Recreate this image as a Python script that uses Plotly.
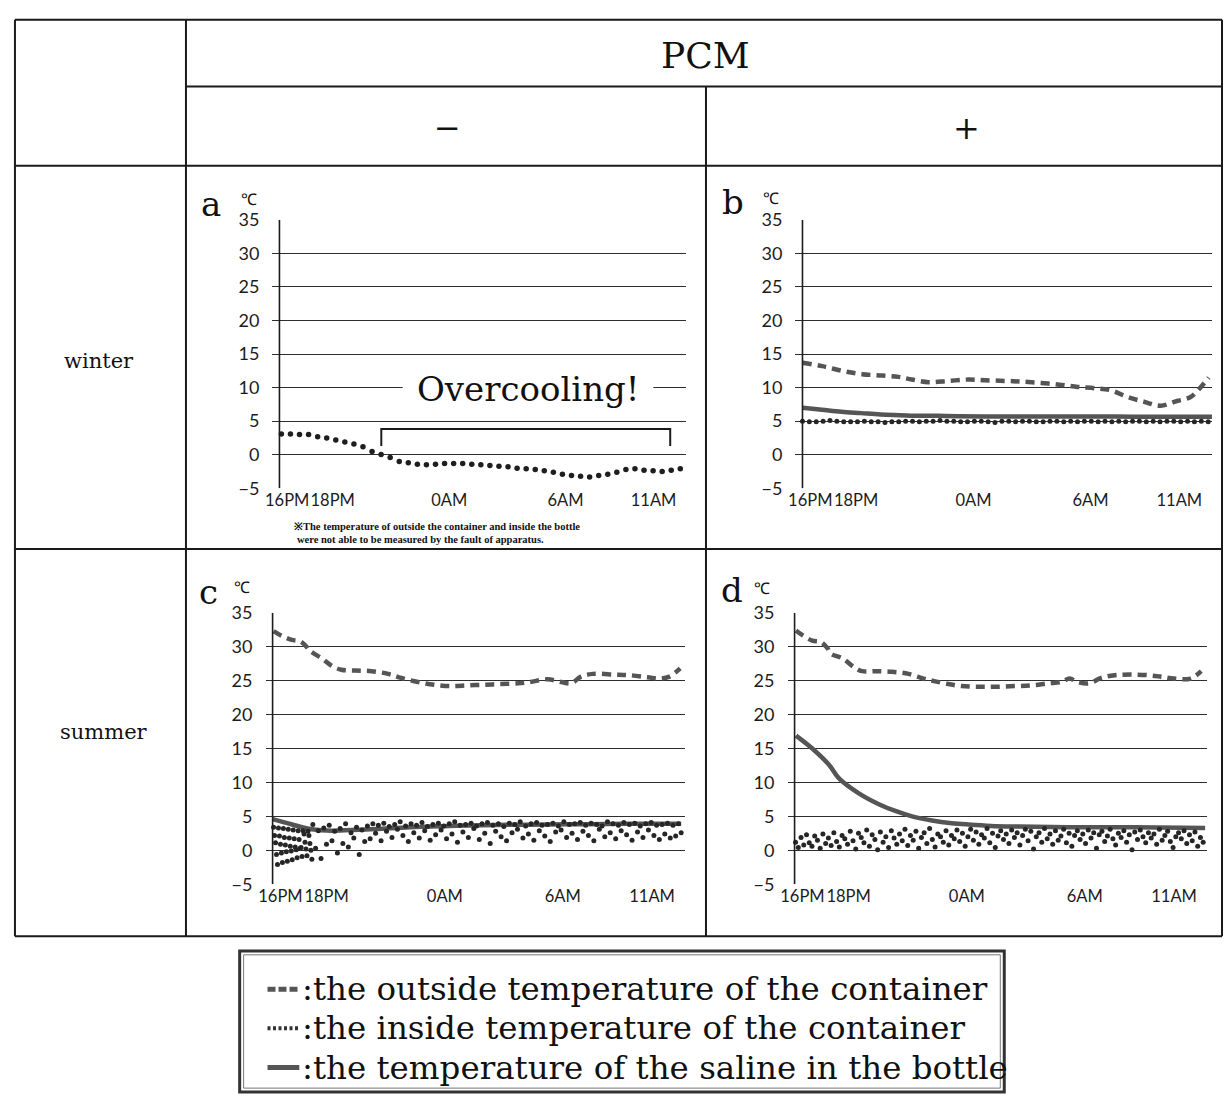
import numpy as np
import plotly.graph_objects as go

W, H = 1224, 1104

# ---------------- data ----------------
tick_labels = ["16PM", "18PM", "0AM", "6AM", "11AM"]
tick_pos = [0.4, 2.75, 8.77, 14.77, 19.32]
y_ticks = [-5, 0, 5, 10, 15, 20, 25, 30, 35]

# a: winter, PCM -  (only inside temperature available)
a_inside = [3.1, 3.1, 3.0, 3.0, 2.7, 2.5, 2.2, 1.9, 1.6, 1.2, 0.5, 0.05, -0.4, -1.0, -1.2,
            -1.4, -1.5, -1.4, -1.3, -1.3, -1.3, -1.4, -1.5, -1.6, -1.7, -1.8, -2.0, -2.1, -2.2,
            -2.4, -2.6, -2.9, -3.1, -3.2, -3.3, -3.1, -2.9, -2.6, -2.2, -2.1, -2.3, -2.4, -2.5,
            -2.3, -2.1]
a_inside_t = np.linspace(0.1, 20.7, len(a_inside))
overcool_t = [5.26, 20.18]

# b: winter, PCM +
b_outside_t = [0, 1.02, 2.04, 3.06, 4.08, 4.93, 5.61, 6.46, 7.48, 8.5, 9.35, 10.37, 11.22,
               12.24, 13.26, 14.11, 14.96, 15.81, 16.66, 17.51, 18.36, 19.2, 19.9, 20.4, 20.83]
b_outside = [13.7, 13.2, 12.5, 12.0, 11.8, 11.6, 11.2, 10.8, 11.0, 11.2, 11.1, 11.0, 10.9,
             10.7, 10.4, 10.1, 9.9, 9.6, 8.6, 7.9, 7.3, 8.0, 8.6, 10.0, 11.5]
b_saline_t = [0, 1, 2, 3, 4, 5, 6, 7, 8, 10, 12, 14, 16, 18, 20, 21]
b_saline = [7.0, 6.7, 6.4, 6.2, 6.0, 5.9, 5.8, 5.8, 5.75, 5.7, 5.7, 5.7, 5.7, 5.65, 5.65, 5.65]
b_inside = [5.0, 4.9, 4.9, 5.0, 5.1, 5.0, 4.9, 4.9, 4.9, 5.0, 4.9, 4.9, 4.8, 4.9, 4.9, 5.0,
            5.0, 4.9, 5.0, 5.0, 5.1, 5.0, 5.0, 4.9, 4.9, 5.0, 5.0, 4.9, 4.8, 5.0, 5.0, 4.9,
            5.0, 5.0, 4.9, 4.9, 5.0, 5.0, 4.9, 5.0, 4.9, 5.0, 5.0, 4.9, 5.0, 4.9, 5.0, 4.9,
            5.0, 5.0, 4.9, 5.0, 4.9, 5.0, 5.0, 4.9, 5.0, 4.9, 5.0, 4.9]
b_inside_t = np.linspace(0.0, 20.8, len(b_inside))

# c: summer, PCM -
c_outside_t = [0.05, 0.47, 0.98, 1.4, 1.66, 1.9, 2.5, 3.0, 3.5, 4.2, 5.03, 5.88, 6.55, 7.4,
               8.24, 9.09, 9.93, 10.8, 11.6, 12.5, 13.1, 14.0, 14.7, 15.2, 15.7, 16.3, 17.4,
               18.2, 19.1, 19.7, 20.2, 20.75]
c_outside = [32.3, 31.6, 31.0, 30.8, 30.2, 29.4, 28.3, 27.2, 26.6, 26.5, 26.4, 26.0, 25.4, 24.8,
             24.4, 24.2, 24.3, 24.4, 24.5, 24.6, 24.8, 25.2, 24.8, 24.6, 25.6, 26.0, 25.9,
             25.8, 25.5, 25.3, 25.6, 26.8]
c_saline_t = [0, 0.5, 1, 1.5, 2, 2.5, 3, 4, 5, 6, 7, 8, 9, 10, 12, 14, 16, 18, 20, 20.8]
c_saline = [4.6, 4.2, 3.8, 3.4, 3.1, 2.95, 2.9, 3.0, 3.1, 3.25, 3.4, 3.5, 3.6, 3.65, 3.75,
            3.8, 3.85, 3.9, 3.9, 3.9]
c_inside_early = [3.4, 2.2, 1.1, -0.6, -2.1, 3.3, 2.1, 0.9, -0.4, -1.8,
                  3.2, 1.9, 0.8, -0.2, -1.6, 3.1, 1.8, 0.6, -0.1, -1.4,
                  3.0, 1.7, 0.5, 0.1, -1.1, 2.9, 1.6, 0.3, 0.4, -0.9,
                  2.9, 2.4, 1.2, 0.2, -0.8, 2.8, 2.2, 1.0, 0.0, -1.3]
c_inside_early_t = np.linspace(0.05, 2.0, len(c_inside_early))
c_inside = [3.8, 0.3, 2.9, -1.2, 3.3, 0.9, 3.7, 1.4, 2.8, -0.4, 3.2, 1.0, 3.9, 0.5, 2.6, 1.8,
            3.4, -0.6, 3.0, 1.3,
            3.6, 1.7, 3.9, 2.5, 3.7, 1.4, 4.0, 2.8, 3.5, 1.9, 3.8, 3.1, 4.2, 2.2, 3.6, 1.3,
            3.9, 2.6, 3.7, 1.8, 4.1, 2.9, 3.5, 1.5, 3.8, 2.3, 4.0, 3.0, 3.6, 1.7, 3.9, 2.4,
            4.2, 1.2, 3.7, 2.7, 3.8, 1.9, 4.0, 3.2, 3.6, 1.6, 3.9, 2.5, 4.1, 1.0, 3.7, 2.8,
            3.9, 2.0, 3.5, 1.4, 4.0, 2.6, 3.8, 3.1, 4.2, 1.8, 3.6, 2.4, 3.9, 1.5, 4.1, 2.9,
            3.7, 2.1, 3.8, 1.3, 4.0, 2.7, 3.6, 3.0, 4.2, 1.9, 3.8, 2.5, 3.9, 1.6, 4.1, 2.8,
            3.7, 2.2, 4.0, 1.4, 3.8, 3.1, 3.6, 2.0, 4.2, 2.6, 3.9, 1.7, 3.7, 2.9, 4.1, 2.3,
            3.8, 1.5, 4.0, 2.7, 3.6, 1.9, 3.9, 3.0, 4.1, 2.2, 3.7, 1.6, 3.8, 2.4, 4.0, 1.8,
            3.7, 2.1, 3.9, 2.6]
c_inside_t = np.linspace(2.05, 20.8, len(c_inside))

# d: summer, PCM +
d_outside_t = [0.07, 0.4, 0.9, 1.33, 1.67, 1.84, 2.43, 3.02, 3.44, 4.1, 4.96, 5.8, 6.57, 7.16,
               7.83, 8.5, 9.35, 10.2, 11.2, 12.05, 12.9, 13.57, 14.0, 14.4, 15.0, 15.6, 16.3,
               17.1, 18.0, 18.6, 19.3, 20.15, 20.7]
d_outside = [32.4, 31.7, 30.9, 30.7, 29.8, 29.0, 28.3, 27.0, 26.4, 26.4, 26.3, 26.0, 25.3, 24.9,
             24.5, 24.2, 24.1, 24.1, 24.2, 24.3, 24.6, 24.8, 25.3, 24.8, 24.6, 25.4, 25.8,
             25.9, 25.8, 25.6, 25.3, 25.3, 26.4]
d_saline_t = [0.07, 0.9, 1.75, 2.26, 3.27, 4.29, 5.13, 5.98, 6.99, 8.0, 8.85, 10.0, 11.4, 13.9,
              17.3, 20.9]
d_saline = [16.9, 15.0, 12.6, 10.6, 8.4, 6.8, 5.8, 5.0, 4.4, 4.0, 3.8, 3.6, 3.5, 3.4, 3.4, 3.3]
d_inside = [1.2, 0.4, 1.9, 0.8, 2.3, 1.1, 0.6, 2.1, 1.5, 0.3, 2.4, 1.0, 1.8, 0.7, 2.6, 1.3,
            0.5, 2.2, 1.7, 0.9, 2.8, 1.4, 0.2, 2.5, 1.9, 1.1, 3.0, 0.6, 2.3, 1.6, 0.1, 2.7,
            1.2, 2.0, 0.4, 2.9, 1.8, 0.9, 2.4, 1.4, 3.1, 0.7, 2.2, 1.5, 2.8, 0.3, 1.9, 2.6,
            1.0, 3.2, 1.6, 0.5, 2.4, 2.0, 1.2, 2.9, 0.8, 2.2, 1.7, 3.0, 1.3, 2.5, 0.6, 2.0,
            3.1, 1.5, 2.7, 0.9, 2.3, 1.8, 3.2, 1.1, 2.5, 0.4, 2.1, 2.9, 1.6, 2.4, 1.0, 3.0,
            1.9, 2.6, 0.8, 2.2, 3.1, 1.4, 2.8, 0.2, 2.0, 2.6, 1.2, 3.2, 1.7, 2.4, 0.9, 2.9,
            1.5, 2.1, 3.1, 1.1, 2.5, 0.6, 2.2, 2.9, 1.6, 2.4, 1.0, 3.0, 1.8, 2.6, 0.3, 2.3,
            2.8, 1.3, 2.1, 3.1, 1.7, 0.8, 2.5, 1.9, 2.9, 1.2, 2.3, 0.1, 2.7, 1.6, 3.0, 2.0,
            1.1, 2.6, 1.8, 2.4, 0.9, 3.1, 1.5, 2.2, 2.8, 1.3, 0.4, 2.0, 2.6, 1.7, 2.9, 1.0,
            2.3, 1.4, 2.7, 0.6, 1.9, 1.2]
d_inside_t = np.linspace(0.05, 20.8, len(d_inside))

legend_texts = [":the outside temperature of the container",
                ":the inside temperature of the container",
                ":the temperature of the saline in the bottle"]

# ---------------- styles ----------------
SERIF = "DejaVu Serif"
SANS = "Lato"
INK = "#1c1c1c"
LINE_GRAY = "#555555"
OUT_STYLE = dict(color=LINE_GRAY, width=4.5, dash="9px,6px")
SAL_STYLE = dict(color=LINE_GRAY, width=4.5)
DOT_MARK = dict(color="#262626", size=5)
DOT_MARK_A = dict(color="#1e1e1e", size=5.5)


def px(x):
    return x / W


def py(y):
    return 1 - y / H


fig = go.Figure()

panels = {
    # name: (left, right, top, bottom) in page pixels
    "a": (267, 683, 212, 486),
    "b": (793, 1212, 212, 486),
    "c": (260, 682, 613, 890),
    "d": (785, 1207, 613, 890),
}
axis_ids = {"a": "", "b": "2", "c": "3", "d": "4"}

layout_axes = {}
for name, (l, r, t, b) in panels.items():
    k = axis_ids[name]
    layout_axes["xaxis" + k] = dict(
        domain=[px(l), px(r)], range=[-0.36, 21.0], anchor="y" + k,
        tickvals=tick_pos, ticktext=tick_labels, showgrid=False, zeroline=False,
        showline=False, ticks="", tickangle=0,
        tickfont=dict(family=SANS, size=16.5, color=INK), fixedrange=True)
    layout_axes["yaxis" + k] = dict(
        domain=[py(b), py(t)], range=[-5, 35], anchor="x" + k,
        tickvals=y_ticks, showgrid=True, gridcolor="#2e2e2e", gridwidth=1.3,
        zeroline=False, showline=False, ticks="", ticklabelstandoff=12,
        tickfont=dict(family=SANS, size=18, color=INK), fixedrange=True)


def add_series(k, outside=None, saline=None, inside=None, mark=DOT_MARK):
    xa, ya = "x" + k, "y" + k
    if outside is not None:
        fig.add_trace(go.Scatter(x=outside[0], y=outside[1], mode="lines", line=OUT_STYLE,
                                 line_shape="spline", xaxis=xa, yaxis=ya, showlegend=False))
    if saline is not None:
        fig.add_trace(go.Scatter(x=saline[0], y=saline[1], mode="lines", line=SAL_STYLE,
                                 line_shape="spline", xaxis=xa, yaxis=ya, showlegend=False))
    if inside is not None:
        fig.add_trace(go.Scatter(x=inside[0], y=inside[1], mode="markers", marker=mark,
                                 xaxis=xa, yaxis=ya, showlegend=False))


add_series("", inside=(a_inside_t, a_inside), mark=DOT_MARK_A)
add_series("2", outside=(b_outside_t, b_outside), saline=(b_saline_t, b_saline),
           inside=(b_inside_t, b_inside))
add_series("3", outside=(c_outside_t, c_outside), saline=(c_saline_t, c_saline),
           inside=(np.concatenate([c_inside_early_t, c_inside_t]), c_inside_early + c_inside))
add_series("4", outside=(d_outside_t, d_outside), saline=(d_saline_t, d_saline),
           inside=(d_inside_t, d_inside))

shapes = []
# y axis lines at t=0
for name, k in axis_ids.items():
    shapes.append(dict(type="line", xref="x" + k, yref="y" + k, x0=0, x1=0, y0=-5, y1=35,
                       line=dict(color=INK, width=1.6), layer="above"))

# overcooling bracket
shapes.append(dict(type="path", xref="x", yref="y",
                   path=f"M {overcool_t[0]},1.3 L {overcool_t[0]},3.85 L {overcool_t[1]},3.85 L {overcool_t[1]},1.3",
                   line=dict(color=INK, width=2), layer="above"))
# white gap behind "Overcooling!" on the 10-degree grid line
shapes.append(dict(type="rect", xref="paper", yref="paper", x0=px(398), x1=px(650),
                   y0=py(392), y1=py(378), fillcolor="white", line=dict(width=0), layer="above"))

# table lines
TL = dict(color="#1a1a1a", width=2)


def hline(y, x0, x1):
    shapes.append(dict(type="line", xref="paper", yref="paper", x0=px(x0), x1=px(x1),
                       y0=py(y), y1=py(y), line=TL))


def vline(x, y0, y1):
    shapes.append(dict(type="line", xref="paper", yref="paper", x0=px(x), x1=px(x),
                       y0=py(y0), y1=py(y1), line=TL))


hline(8, 8, 1222)
hline(76, 180, 1222)
hline(157, 8, 1222)
hline(548, 8, 1222)
hline(943, 8, 1222)
vline(8, 8, 943)
vline(180, 8, 943)
vline(703, 76, 943)
vline(1222, 8, 943)

# legend box (double border)
shapes.append(dict(type="rect", xref="paper", yref="paper", x0=px(234), x1=px(1003),
                   y0=py(1102), y1=py(958), line=dict(color="#333", width=3)))
shapes.append(dict(type="rect", xref="paper", yref="paper", x0=px(238), x1=px(999),
                   y0=py(1098), y1=py(962), line=dict(color="#777", width=1)))
# legend symbols
shapes.append(dict(type="line", xref="paper", yref="paper", x0=px(262), x1=px(293),
                   y0=py(997), y1=py(997), line=dict(color=LINE_GRAY, width=5, dash="8px,3px")))
shapes.append(dict(type="line", xref="paper", yref="paper", x0=px(262), x1=px(293),
                   y0=py(1037), y1=py(1037), line=dict(color="#333", width=4, dash="3px,2.5px")))
shapes.append(dict(type="line", xref="paper", yref="paper", x0=px(262), x1=px(294),
                   y0=py(1077), y1=py(1077), line=dict(color=LINE_GRAY, width=5)))

annotations = []


def text(x, y, s, size, family=SERIF, anchor="center", bold=False, bg=None):
    annotations.append(dict(xref="paper", yref="paper", x=px(x), y=py(y), text=s,
                            showarrow=False, xanchor=anchor, yanchor="middle",
                            font=dict(family=family, size=size, color="#111",
                                      weight="bold" if bold else "normal"),
                            bgcolor=bg, borderpad=0))


text(703, 44, "PCM", 36)
text(443, 118, "\u2212", 32)
text(965, 118, "+", 32)
text(93, 356, "winter", 21)
text(98, 735, "summer", 21)
text(205, 196, "a", 34)
text(730, 194, "b", 34)
text(203, 592, "c", 34)
text(729, 590, "d", 34)
text(243, 190, "\u2103", 16, family=SANS)
text(768, 189, "\u2103", 16, family=SANS)
text(236, 586, "\u2103", 16, family=SANS)
text(759, 587, "\u2103", 16, family=SANS)
text(524, 385, "Overcooling!", 34)
text(288, 525, "\u203bThe temperature of outside the container and inside the bottle",
     10.5, family="Liberation Serif", anchor="left", bold=True)
text(291, 538, "were not able to be measured by the fault of apparatus.",
     10.5, family="Liberation Serif", anchor="left", bold=True)
for i, s in enumerate(legend_texts):
    text(296, 997 + 40 * i, s, 32.5, anchor="left")

fig.update_layout(
    width=W, height=H, margin=dict(l=0, r=0, t=0, b=0),
    paper_bgcolor="white", plot_bgcolor="white",
    shapes=shapes, annotations=annotations, showlegend=False,
    **layout_axes,
)

fig.write_html(
    "out.html",
    config={"displayModeBar": False},
    post_script=("var s=document.documentElement.style;s.margin='0';s.padding='0';s.overflow='hidden';"
                 "var b=document.body.style;b.margin='0';b.padding='0';b.overflow='hidden';"
                 "var g=document.getElementById('{plot_id}').style;"
                 "g.position='fixed';g.left='0px';g.top='0px';"),
)
